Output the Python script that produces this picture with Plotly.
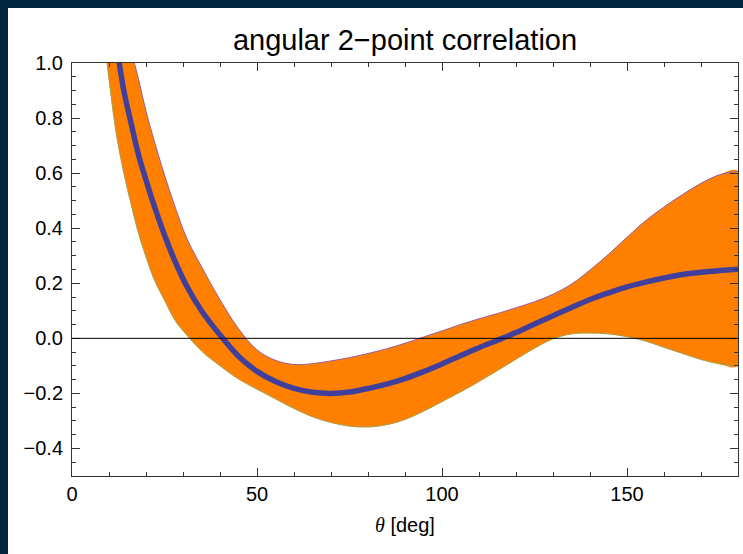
import plotly.graph_objects as go

# ---- data ----
theta_mean = [10, 12, 14, 16, 18, 20, 22, 25, 28, 31, 35, 40, 45, 50, 55, 60, 65, 70, 75, 80,
              85, 90, 95, 100, 105, 110, 115, 120, 125, 130, 135, 140, 145, 150, 155, 160,
              165, 170, 175, 180]
corr_mean = [1.26, 1.07, 0.90, 0.78, 0.665, 0.575, 0.49, 0.375, 0.275, 0.19, 0.10, 0.012,
             -0.065, -0.12, -0.157, -0.182, -0.196, -0.200, -0.195, -0.182,
             -0.166, -0.146, -0.121, -0.093, -0.063, -0.034, -0.007, 0.021, 0.052, 0.082,
             0.112, 0.141, 0.165, 0.187, 0.204, 0.219, 0.232, 0.240, 0.246, 0.251]

theta_upper = [14, 16, 18, 20, 22, 25, 28, 31, 35, 40, 45, 50, 55, 60, 65, 70, 75, 80, 85, 90,
               95, 100, 105, 110, 115, 120, 125, 130, 135, 140, 145, 150, 155, 160, 165, 170,
               175, 180]
corr_upper = [1.16, 1.045, 0.94, 0.825, 0.728, 0.593, 0.472, 0.364, 0.26, 0.14, 0.035, -0.042,
              -0.08, -0.095, -0.092, -0.082, -0.07, -0.055, -0.038, -0.018,
              0.005, 0.027, 0.05, 0.071, 0.09, 0.111, 0.133, 0.16, 0.197, 0.248, 0.305,
              0.367, 0.427, 0.477, 0.522, 0.563, 0.594, 0.607]

theta_lower = [8, 10, 12, 14, 16, 18, 20, 22, 25, 28, 31, 35, 40, 45, 50, 55, 60, 65, 70, 75,
               80, 85, 90, 95, 100, 105, 110, 115, 120, 125, 130, 135, 140, 145, 150, 155,
               160, 165, 170, 175, 180]
corr_lower = [1.17, 0.94, 0.74, 0.60, 0.485, 0.38, 0.296, 0.22, 0.138, 0.062, 0.012, -0.046,
              -0.10, -0.148, -0.185, -0.22, -0.255, -0.285, -0.306, -0.319,
              -0.322, -0.314, -0.295, -0.265, -0.23, -0.195, -0.157, -0.117, -0.076, -0.036,
              -0.002, 0.016, 0.019, 0.016, 0.006, -0.01, -0.033, -0.055, -0.077, -0.093, -0.10]

x_ticks = [0, 50, 100, 150]
y_ticks = [-0.4, -0.2, 0.0, 0.2, 0.4, 0.6, 0.8, 1.0]

FONT = "Liberation Sans, Arial, Helvetica, sans-serif"
NAVY = "#03263f"
ORANGE = "#ff8000"
BLUE = "#40409c"

W, H = 760, 570

fig = go.Figure()

# band polygon
fig.add_trace(go.Scatter(
    x=theta_upper + theta_lower[::-1],
    y=corr_upper + corr_lower[::-1],
    fill="toself", fillcolor=ORANGE, mode="lines",
    line=dict(width=0, color=ORANGE, shape="spline"), hoverinfo="skip", showlegend=False))
# band edges
fig.add_trace(go.Scatter(x=theta_upper, y=corr_upper, mode="lines",
                         line=dict(color="#9a5c9a", width=1, shape="spline"),
                         showlegend=False))
fig.add_trace(go.Scatter(x=theta_lower, y=corr_lower, mode="lines",
                         line=dict(color="#a8a048", width=1, shape="spline"),
                         showlegend=False))
# mean curve
fig.add_trace(go.Scatter(x=theta_mean, y=corr_mean, mode="lines",
                         line=dict(color=BLUE, width=5.5, shape="spline"),
                         showlegend=False))

axis_common = dict(
    showline=True, linecolor="#333333", linewidth=1, mirror="ticks",
    ticks="inside", ticklen=8, tickwidth=1, tickcolor="#333333",
    showgrid=False, zeroline=False,
    tickfont=dict(family=FONT, size=20, color="black"),
)

fig.update_xaxes(range=[0, 180], tickvals=x_ticks,
                 minor=dict(ticks="inside", ticklen=4, dtick=10, tick0=0,
                            tickcolor="#333333", showgrid=False),
                 **axis_common)
fig.update_yaxes(range=[-0.5, 1.0], tickvals=y_ticks, tickformat=".1f",
                 minor=dict(ticks="inside", ticklen=4, dtick=0.05, tick0=0,
                            tickcolor="#333333", showgrid=False),
                 ticklabelstandoff=4,
                 **axis_common)

# zero line
fig.add_shape(type="line", xref="paper", yref="y", x0=0, x1=1, y0=0, y1=0,
              line=dict(color="black", width=1), layer="above")

fig.add_annotation(text='<span style="font-family:Liberation Serif"><i>θ</i></span> [deg]',
                   xref="paper", yref="paper", x=0.5, y=-0.1186, yanchor="middle",
                   showarrow=False, font=dict(family=FONT, size=20, color="black"))

fig.update_layout(
    width=W, height=H,
    margin=dict(l=64, r=W - 64 - 666, t=55, b=H - 55 - 413),
    paper_bgcolor="white", plot_bgcolor="white",
    title=dict(text="angular 2−point correlation", x=0.5, xref="paper",
               y=1 - 32 / H, yanchor="middle",
               font=dict(family=FONT, size=29, color="black")),
)

fig.write_html(
    "out.html",
    post_script=(
        "document.documentElement.style.overflow='hidden';"
        "document.body.style.overflow='hidden';"
        "document.body.style.margin='8px 0 0 8px';"
        "document.body.style.background='" + NAVY + "';"
    ),
)
